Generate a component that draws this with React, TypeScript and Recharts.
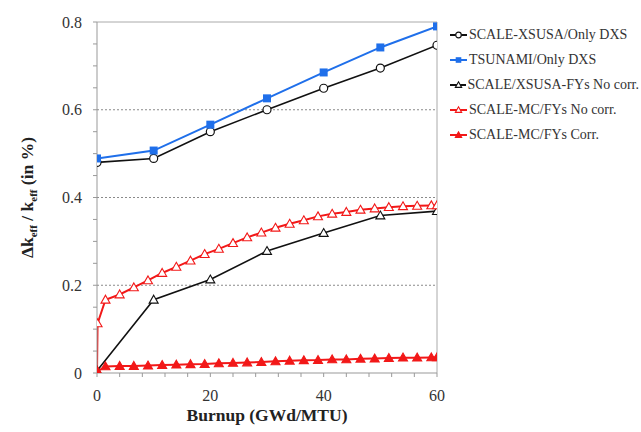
import React from 'react'
import {
  LineChart, Line, XAxis, YAxis, CartesianGrid, Legend, ReferenceLine,
} from 'recharts'

// burnup steps (GWd/MTU)
const burnupCoarse = [0, 10, 20, 30, 40, 50, 60]
const burnupFine = [
  0, 0.1, 1.5, 4, 6.5, 9, 11.5, 14, 16.5, 19, 21.5, 24, 26.5, 29, 31.5,
  34, 36.5, 39, 41.5, 44, 46.5, 49, 51.5, 54, 56.5, 59, 60,
]

// delta k_eff / k_eff (in %)
const xsusaOnlyDxs = [0.48, 0.489, 0.55, 0.6, 0.649, 0.695, 0.747]
const tsunamiOnlyDxs = [0.489, 0.507, 0.566, 0.626, 0.685, 0.742, 0.79]
const xsusaFysNoCorr = [0.005, 0.167, 0.213, 0.278, 0.319, 0.359, 0.369]
const mcFysNoCorr = [
  0, 0.113, 0.167, 0.179, 0.195, 0.211, 0.228, 0.242, 0.256, 0.271, 0.283,
  0.296, 0.309, 0.32, 0.331, 0.34, 0.348, 0.357, 0.363, 0.367, 0.372, 0.375,
  0.378, 0.38, 0.381, 0.382, 0.382,
]
const mcFysCorr = [
  0, 0.004, 0.015, 0.016, 0.016, 0.017, 0.018, 0.019, 0.02, 0.0205, 0.022,
  0.023, 0.024, 0.025, 0.0265, 0.028, 0.029, 0.0295, 0.031, 0.031, 0.0325,
  0.033, 0.034, 0.035, 0.035, 0.0355, 0.0355,
]

const xTicks = [0, 4, 8, 12, 16, 20, 24, 28, 32, 36, 40, 44, 48, 52, 56, 60]
const yTicks = [0, 0.05, 0.1, 0.15, 0.2, 0.25, 0.3, 0.35, 0.4, 0.45, 0.5, 0.55, 0.6, 0.65, 0.7, 0.75, 0.8]
const yMajor = [0, 0.2, 0.4, 0.6, 0.8]
const xMajor = [0, 20, 40, 60]

const BLUE = '#1f6fea'
const RED = '#f21818'
const BLACK = '#111'
const SERIF = "'Liberation Serif', 'Times New Roman', serif"

const pairs = (xs: number[], ys: number[]) => xs.map((x, i) => ({ x, y: ys[i] }))

type Marker = 'circle' | 'square' | 'triOpen' | 'triFilled'

function MarkerShape({ kind, cx, cy, color, size = 1 }: { kind: Marker; cx: number; cy: number; color: string; size?: number }) {
  if (kind === 'circle') {
    return <circle cx={cx} cy={cy} r={4 * size} fill="#fff" stroke={color} strokeWidth={1.2} />
  }
  if (kind === 'square') {
    const s = 4 * size
    return <rect x={cx - s} y={cy - s} width={s * 2} height={s * 2} fill={color} />
  }
  const s = 4.5 * size
  const pts = `${cx},${cy - s} ${cx + s},${cy + s * 0.75} ${cx - s},${cy + s * 0.75}`
  return (
    <polygon
      points={pts}
      fill={kind === 'triFilled' ? color : '#fff'}
      stroke={color}
      strokeWidth={1.1}
    />
  )
}

const dotOf = (kind: Marker, color: string) => (p: any) => {
  if (p.cx == null || p.cy == null) return <g key={`e-${p.index}`} />
  return (
    <g key={`d-${kind}-${p.index}`}>
      <MarkerShape kind={kind} cx={p.cx} cy={p.cy} color={color} />
    </g>
  )
}

const SERIES: { name: string; color: string; marker: Marker; data: { x: number; y: number }[] }[] = [
  { name: 'SCALE-XSUSA/Only DXS', color: BLACK, marker: 'circle', data: pairs(burnupCoarse, xsusaOnlyDxs) },
  { name: 'TSUNAMI/Only DXS', color: BLUE, marker: 'square', data: pairs(burnupCoarse, tsunamiOnlyDxs) },
  { name: 'SCALE/XSUSA-FYs No corr.', color: BLACK, marker: 'triOpen', data: pairs(burnupCoarse, xsusaFysNoCorr) },
  { name: 'SCALE-MC/FYs No corr.', color: RED, marker: 'triOpen', data: pairs(burnupFine, mcFysNoCorr) },
  { name: 'SCALE-MC/FYs Corr.', color: RED, marker: 'triFilled', data: pairs(burnupFine, mcFysCorr) },
]

function LegendBox(props: any) {
  // keep the legend in series order, not sorted by name
  const items = [...(props.payload || [])].sort(
    (a: any, b: any) => SERIES.findIndex(s => s.name === a.value) - SERIES.findIndex(s => s.name === b.value),
  )
  return (
    <div style={{ fontFamily: SERIF, fontSize: 14, color: '#333' }}>
      {items.map((it: any) => {
        const s = SERIES.find(d => d.name === it.value)
        if (!s) return null
        return (
          <div key={it.value} style={{ display: 'flex', alignItems: 'center', height: 25 }}>
            <svg width={19} height={12} style={{ marginRight: 1 }}>
              <line x1={1} y1={6} x2={18} y2={6} stroke={s.color} strokeWidth={2} />
              <MarkerShape kind={s.marker} cx={9.5} cy={6} color={s.color} size={0.7} />
            </svg>
            <span style={{ whiteSpace: 'nowrap' }}>{it.value}</span>
          </div>
        )
      })}
    </div>
  )
}

function YLabel(props: any) {
  const vb = props.viewBox || { x: 0, y: 22, width: 97, height: 351 }
  const cx = 33
  const cy = vb.y + vb.height / 2
  return (
    <text
      x={cx}
      y={cy}
      transform={`rotate(-90, ${cx}, ${cy})`}
      textAnchor="middle"
      style={{ fontFamily: SERIF }}
      fontWeight="bold"
      fontSize={17.5}
      fill="#222"
    >
      Δk<tspan fontSize={11} dy={4}>eff</tspan>
      <tspan dy={-4}> / k</tspan>
      <tspan fontSize={11} dy={4}>eff</tspan>
      <tspan dy={-4}> (in %)</tspan>
    </text>
  )
}

function XLabel(props: any) {
  const vb = props.viewBox || { x: 97, y: 373, width: 340, height: 59 }
  return (
    <text
      x={vb.x + vb.width / 2}
      y={421}
      textAnchor="middle"
      style={{ fontFamily: SERIF }}
      fontWeight="bold"
      fontSize={17.5}
      fill="#222"
    >
      Burnup (GWd/MTU)
    </text>
  )
}

export default function App() {
  return (
    <div style={{ position: 'absolute', left: 0, top: 0, width: 641, height: 432, background: '#fff' }}>
      <LineChart width={641} height={432} margin={{ top: 22, right: 14, bottom: 0, left: 0 }}>
        <CartesianGrid
          vertical={false}
          horizontalValues={[0.2, 0.4, 0.6]}
          strokeDasharray="2 2"
          stroke="#8a8a8a"
        />
        <XAxis
          type="number"
          dataKey="x"
          domain={[0, 60]}
          ticks={xTicks}
          allowDataOverflow
          tickFormatter={(v: number) => (xMajor.includes(v) ? String(v) : '')}
          height={59}
          tickSize={4}
          tickMargin={13}
          stroke="#999"
          tick={{ fill: '#333', fontSize: 16, style: { fontFamily: SERIF } }}
          label={<XLabel />}
        />
        <YAxis
          type="number"
          domain={[0, 0.8]}
          ticks={yTicks}
          allowDataOverflow
          tickFormatter={(v: number) => (yMajor.some(m => Math.abs(m - v) < 1e-6) ? (v === 0 ? '0' : v.toFixed(1)) : '')}
          width={97}
          tickSize={4}
          tickMargin={11}
          stroke="#999"
          tick={{ fill: '#333', fontSize: 16, style: { fontFamily: SERIF } }}
          label={<YLabel />}
        />
        <ReferenceLine y={0.8} stroke="#aaa" strokeWidth={1} />
        <ReferenceLine x={60} stroke="#aaa" strokeWidth={1} />
        <Legend
          layout="vertical"
          align="right"
          verticalAlign="top"
          wrapperStyle={{ left: 449, top: 22, width: 190 }}
          content={<LegendBox />}
        />
        {SERIES.map(s => (
          <Line
            key={s.name}
            name={s.name}
            data={s.data}
            dataKey="y"
            type="linear"
            stroke={s.color}
            strokeWidth={s.color === BLACK ? 1.6 : 2}
            dot={dotOf(s.marker, s.color)}
            activeDot={false}
            legendType="line"
            isAnimationActive={false}
          />
        ))}
      </LineChart>
    </div>
  )
}
